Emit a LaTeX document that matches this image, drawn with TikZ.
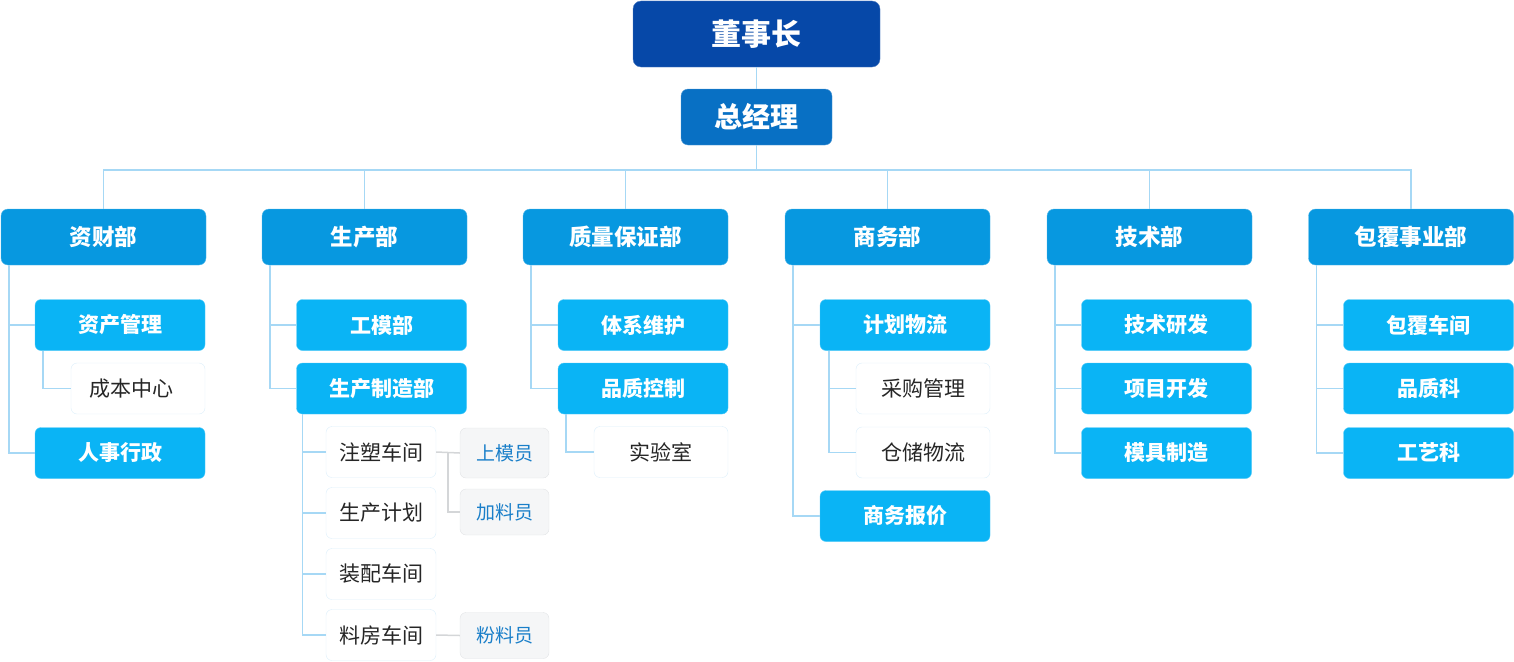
\documentclass[tikz,border=0pt]{standalone}
\usepackage{fontspec}
\newfontfamily\cjk{Noto Sans CJK SC}
\usetikzlibrary{calc}
\definecolor{ceoC}{HTML}{0648A8}
\definecolor{gmC}{HTML}{0870C4}
\definecolor{depC}{HTML}{0798E0}
\definecolor{subC}{HTML}{0AB4F5}
\definecolor{lineC}{HTML}{A6D8F5}
\definecolor{wbC}{HTML}{DCEFFB}
\definecolor{grayB}{HTML}{E2E4E6}
\definecolor{grayF}{HTML}{F5F6F7}
\definecolor{grayL}{HTML}{D4D6D8}
\definecolor{grayT}{HTML}{1A7FC9}
\tikzset{
  base/.style={rectangle, inner sep=0pt, align=center},
  ceo/.style={base, fill=ceoC, draw=ceoC!70!white, rounded corners=8pt, minimum width=247pt, minimum height=66pt, text=white, font=\cjk\bfseries\fontsize{30}{32}\selectfont},
  gm/.style={base, fill=gmC, draw=gmC!70!white, rounded corners=7pt, minimum width=151pt, minimum height=56pt, text=white, font=\cjk\bfseries\fontsize{28}{30}\selectfont},
  dep/.style={base, fill=depC, draw=depC!70!white, rounded corners=7pt, minimum width=205pt, minimum height=56pt, text=white, font=\cjk\bfseries\fontsize{22.5}{24}\selectfont},
  sub/.style={base, fill=subC, draw=subC!70!white, rounded corners=6pt, minimum width=170pt, minimum height=51pt, text=white, font=\cjk\bfseries\fontsize{21}{23}\selectfont},
  wbox/.style={base, fill=white, draw=wbC, rounded corners=6pt, minimum height=51pt, text=black!85, font=\cjk\fontsize{21}{23}\selectfont},
  gbox/.style={base, fill=grayF, draw=grayB, rounded corners=6pt, minimum width=89pt, minimum height=46pt, text=grayT, font=\cjk\fontsize{19}{21}\selectfont},
  conn/.style={draw=lineC, line width=1.5pt},
  gconn/.style={draw=grayL, line width=1.5pt}
}
\begin{document}
\begin{tikzpicture}[x=1pt,y=-1pt]
\useasboundingbox (0,0) rectangle (1514,661);
% top
\node[ceo] (ceo) at (756.5,34) {董事长};
\node[gm] (gm) at (756.5,117) {总经理};
\coordinate (bus) at (756.5,170);
% departments
\node[dep] (d1) at (103.5,237) {资财部};
\node[dep] (d2) at (364.5,237) {生产部};
\node[dep] (d3) at (625.5,237) {质量保证部};
\node[dep] (d4) at (887.5,237) {商务部};
\node[dep] (d5) at (1149.5,237) {技术部};
\node[dep] (d6) at (1411,237) {包覆事业部};
\draw[conn] (ceo.south) -- (gm.north);
\draw[conn] (gm.south) -- (bus);
\foreach \d in {d1,d2,d3,d4,d5,d6}{\draw[conn] (bus) -| (\d.north);}
% 资财部
\node[sub] (s11) at (120,325) {资产管理};
\node[wbox, minimum width=134pt] (w11) at (138,388.5) {\hspace*{-14pt}成本中心};
\node[sub] (s12) at (120,453) {人事行政};
\draw[conn] ($(d1.south west)+(8,0)$) |- (s11.west);
\draw[conn] ($(d1.south west)+(8,0)$) |- (s12.west);
\draw[conn] ($(s11.south west)+(8,0)$) |- (w11.west);
% 生产部
\node[sub] (s21) at (381.5,325) {工模部};
\node[sub] (s22) at (381.5,388.5) {生产制造部};
\draw[conn] ($(d2.south west)+(8,0)$) |- (s21.west);
\draw[conn] ($(d2.south west)+(8,0)$) |- (s22.west);
\node[wbox, minimum width=110pt] (w21) at (381,452) {注塑车间};
\node[wbox, minimum width=110pt] (w22) at (381,513) {生产计划};
\node[wbox, minimum width=110pt] (w23) at (381,574) {装配车间};
\node[wbox, minimum width=110pt] (w24) at (381,635) {料房车间};
\foreach \w in {w21,w22,w23,w24}{\draw[conn] ($(s22.south west)+(6,0)$) |- (\w.west);}
\node[gbox, minimum height=50pt] (g1) at (504.5,453) {上模员};
\node[gbox] (g2) at (504.5,512) {加料员};
\node[gbox] (g3) at (504.5,635.5) {粉料员};
\coordinate (gj) at ($(w21.east)+(12,0)$);
\draw[gconn] (w21.east) -- (g1.west);
\draw[gconn] (gj) |- (g2.west);
\draw[gconn] (w24.east) -- (g3.west);
% 质量保证部
\node[sub] (s31) at (643,325) {体系维护};
\node[sub] (s32) at (643,388.5) {品质控制};
\node[wbox, minimum width=134pt] (w31) at (661,452) {实验室};
\draw[conn] ($(d3.south west)+(8,0)$) |- (s31.west);
\draw[conn] ($(d3.south west)+(8,0)$) |- (s32.west);
\draw[conn] ($(s32.south west)+(8,0)$) |- (w31.west);
% 商务部
\node[sub] (s41) at (905,325) {计划物流};
\node[wbox, minimum width=134pt] (w41) at (923,388.5) {采购管理};
\node[wbox, minimum width=134pt] (w42) at (923,452.5) {仓储物流};
\node[sub] (s42) at (905,516) {商务报价};
\draw[conn] ($(d4.south west)+(8,0)$) |- (s41.west);
\draw[conn] ($(d4.south west)+(8,0)$) |- (s42.west);
\draw[conn] ($(s41.south west)+(9,0)$) |- (w41.west);
\draw[conn] ($(s41.south west)+(9,0)$) |- (w42.west);
% 技术部
\node[sub] (s51) at (1166.5,325) {技术研发};
\node[sub] (s52) at (1166.5,388.5) {项目开发};
\node[sub] (s53) at (1166.5,453) {模具制造};
\foreach \s in {s51,s52,s53}{\draw[conn] ($(d5.south west)+(8,0)$) |- (\s.west);}
% 包覆事业部
\node[sub] (s61) at (1428.5,325) {包覆车间};
\node[sub] (s62) at (1428.5,388.5) {品质科};
\node[sub] (s63) at (1428.5,453) {工艺科};
\foreach \s in {s61,s62,s63}{\draw[conn] ($(d6.south west)+(8,0)$) |- (\s.west);}
\end{tikzpicture}
\end{document}
